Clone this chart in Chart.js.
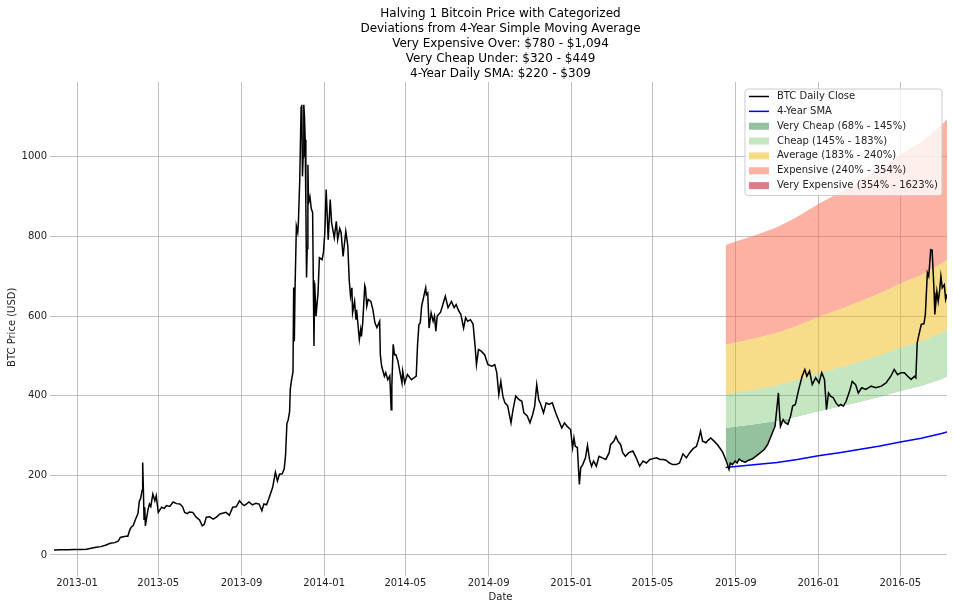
<!DOCTYPE html>
<html>
<head>
<meta charset="utf-8">
<script src="https://cdn.jsdelivr.net/npm/chart.js@4.4.1/dist/chart.umd.min.js"></script>
<style>
  html, body { margin: 0; padding: 0; background: #fff; }
  #chart { display: block; }
</style>
</head>
<body>
<canvas id="chart" width="953" height="610"></canvas>
<script>
// BTC daily close
const closeDates = [
  "2012-11-28","2012-12-08","2012-12-18","2012-12-28","2013-01-07","2013-01-15","2013-01-22","2013-01-29",
  "2013-02-05","2013-02-12","2013-02-19","2013-02-26","2013-03-03","2013-03-06","2013-03-10","2013-03-14",
  "2013-03-17","2013-03-20","2013-03-22","2013-03-25","2013-03-28","2013-04-01","2013-04-03","2013-04-05",
  "2013-04-07","2013-04-08","2013-04-09","2013-04-10","2013-04-11","2013-04-12","2013-04-14","2013-04-16",
  "2013-04-18","2013-04-20","2013-04-23","2013-04-26","2013-04-28","2013-05-01","2013-05-03","2013-05-06",
  "2013-05-10","2013-05-13","2013-05-18","2013-05-23","2013-05-28","2013-06-02","2013-06-06","2013-06-09",
  "2013-06-13","2013-06-16","2013-06-21","2013-06-26","2013-07-01","2013-07-05","2013-07-08","2013-07-11",
  "2013-07-16","2013-07-21","2013-07-26","2013-07-31","2013-08-04","2013-08-09","2013-08-14","2013-08-19",
  "2013-08-24","2013-08-29","2013-09-02","2013-09-05","2013-09-09","2013-09-12","2013-09-17","2013-09-22",
  "2013-09-27","2013-10-01","2013-10-04","2013-10-08","2013-10-12","2013-10-17","2013-10-21","2013-10-24",
  "2013-10-27","2013-10-31","2013-11-03","2013-11-05","2013-11-07","2013-11-09","2013-11-11","2013-11-12",
  "2013-11-14","2013-11-16","2013-11-17","2013-11-18","2013-11-19","2013-11-21","2013-11-23","2013-11-24",
  "2013-11-26","2013-11-28","2013-11-29","2013-11-30","2013-12-01","2013-12-02","2013-12-03","2013-12-04",
  "2013-12-05","2013-12-06","2013-12-07","2013-12-08","2013-12-09","2013-12-11","2013-12-13","2013-12-15",
  "2013-12-16","2013-12-17","2013-12-18","2013-12-20","2013-12-23","2013-12-25","2013-12-29","2013-12-31",
  "2014-01-02","2014-01-04","2014-01-07","2014-01-10","2014-01-12","2014-01-16","2014-01-19","2014-01-21",
  "2014-01-24","2014-01-26","2014-01-29","2014-02-02","2014-02-05","2014-02-07","2014-02-09","2014-02-11",
  "2014-02-12","2014-02-15","2014-02-17","2014-02-18","2014-02-22","2014-02-24","2014-02-25","2014-02-27",
  "2014-03-02","2014-03-03","2014-03-05","2014-03-07","2014-03-11","2014-03-14","2014-03-17","2014-03-20",
  "2014-03-24","2014-03-25","2014-03-27","2014-03-31","2014-04-02","2014-04-05","2014-04-08","2014-04-10",
  "2014-04-11","2014-04-13","2014-04-15","2014-04-17","2014-04-20","2014-04-24","2014-04-26","2014-04-27",
  "2014-04-30","2014-05-04","2014-05-10","2014-05-17","2014-05-19","2014-05-21","2014-05-23","2014-05-25",
  "2014-05-31","2014-06-01","2014-06-03","2014-06-05","2014-06-08","2014-06-11","2014-06-13","2014-06-15",
  "2014-06-17","2014-06-22","2014-06-29","2014-07-03","2014-07-08","2014-07-12","2014-07-15","2014-07-18",
  "2014-07-22","2014-07-26","2014-07-29","2014-08-01","2014-08-05","2014-08-09","2014-08-12","2014-08-14",
  "2014-08-17","2014-08-21","2014-08-26","2014-08-31","2014-09-06","2014-09-10","2014-09-13","2014-09-16",
  "2014-09-19","2014-09-22","2014-09-25","2014-09-29","2014-10-04","2014-10-07","2014-10-11","2014-10-16",
  "2014-10-20","2014-10-23","2014-10-28","2014-11-01","2014-11-05","2014-11-08","2014-11-11","2014-11-14",
  "2014-11-17","2014-11-21","2014-11-25","2014-11-29","2014-12-04","2014-12-09","2014-12-14","2014-12-18",
  "2014-12-22","2014-12-26","2014-12-31","2015-01-03","2015-01-05","2015-01-07","2015-01-10","2015-01-13",
  "2015-01-15","2015-01-18","2015-01-22","2015-01-25","2015-01-28","2015-01-31","2015-02-03","2015-02-07",
  "2015-02-11","2015-02-16","2015-02-21","2015-02-26","2015-02-28","2015-03-05","2015-03-08","2015-03-11",
  "2015-03-15","2015-03-18","2015-03-22","2015-03-27","2015-04-02","2015-04-07","2015-04-12","2015-04-17",
  "2015-04-22","2015-04-27","2015-05-02","2015-05-07","2015-05-12","2015-05-17","2015-05-21","2015-05-26",
  "2015-05-31","2015-06-05","2015-06-10","2015-06-15","2015-06-20","2015-06-25","2015-06-30","2015-07-05",
  "2015-07-08","2015-07-11","2015-07-14","2015-07-19","2015-07-22","2015-07-26","2015-07-31","2015-08-05",
  "2015-08-10","2015-08-13","2015-08-17","2015-08-19","2015-08-22","2015-08-24","2015-08-27","2015-08-31",
  "2015-09-03","2015-09-06","2015-09-10","2015-09-15","2015-09-20","2015-09-25","2015-09-30","2015-10-06",
  "2015-10-13","2015-10-18","2015-10-22","2015-10-26","2015-10-29","2015-10-31","2015-11-02","2015-11-03",
  "2015-11-04","2015-11-06","2015-11-10","2015-11-13","2015-11-17","2015-11-21","2015-11-24","2015-11-28",
  "2015-12-03","2015-12-08","2015-12-12","2015-12-15","2015-12-19","2015-12-23","2015-12-28","2016-01-02",
  "2016-01-06","2016-01-10","2016-01-13","2016-01-16","2016-01-19","2016-01-23","2016-01-27","2016-01-31",
  "2016-02-03","2016-02-07","2016-02-11","2016-02-16","2016-02-20","2016-02-25","2016-02-29","2016-03-05",
  "2016-03-11","2016-03-19","2016-03-26","2016-04-03","2016-04-10","2016-04-17","2016-04-22","2016-04-27",
  "2016-05-02","2016-05-07","2016-05-12","2016-05-17","2016-05-22","2016-05-24","2016-05-26","2016-05-28",
  "2016-06-01","2016-06-05","2016-06-07","2016-06-10","2016-06-12","2016-06-15","2016-06-17","2016-06-20",
  "2016-06-21","2016-06-24","2016-06-26","2016-06-28","2016-06-30","2016-07-02","2016-07-05","2016-07-07",
  "2016-07-09"
];
const closeValues = [
  12.4,13.4,13.3,13.5,13.6,14.3,16.8,19.4,
  21,24.6,29.5,31,35,44,46,47,
  47,63,70,74,88,104,135,142,
  162,232,165,90,120,73,95,115,
  128,122,153,136,149,107,112,120,
  117,124,122,133,129,128,121,107,
  104,108,107,95,88,73,77,95,
  96,90,95,103,105,107,100,120,
  121,136,128,124,129,133,126,130,
  128,111,128,126,145,170,208,186,
  203,204,216,250,330,340,360,416,
  441,460,672,537,667,826,810,835,
  943,1125,1131,951,1000,1131,1100,1043,
  880,697,770,980,885,900,870,860,
  690,525,684,600,659,747,742,760,
  810,918,792,893,835,797,838,792,
  820,810,750,813,776,692,650,671,
  608,637,591,616,541,566,549,583,
  677,671,625,642,637,616,583,571,
  587,503,474,449,458,440,450,365,
  424,529,503,503,487,450,432,462,
  432,453,440,449,529,579,583,625,
  671,654,658,570,608,587,600,562,
  600,610,650,621,637,621,629,616,
  604,570,596,587,591,580,524,478,
  516,512,503,478,474,478,458,403,
  436,399,382,375,332,365,399,390,
  386,357,349,332,353,374,428,390,
  378,357,382,378,382,357,336,319,
  332,323,315,269,294,273,270,177,
  219,227,244,275,240,223,236,223,
  248,244,240,257,277,286,298,286,
  277,257,248,257,261,244,223,236,
  231,240,242,244,240,240,238,231,
  227,227,231,254,244,257,267,273,
  290,311,286,282,288,294,286,277,
  265,257,240,231,215,231,227,236,
  231,241,236,233,238,241,247,255,
  265,277,294,311,323,357,390,407,
  374,323,340,332,328,349,374,378,
  416,449,466,449,462,428,445,432,
  458,441,365,407,399,395,382,374,
  378,374,386,411,436,428,407,420,
  416,424,420,424,432,449,466,453,
  458,458,449,441,449,445,533,549,
  579,581,604,709,700,767,766,659,
  604,662,637,662,700,671,679,642,
  655
];

// 4-year simple moving average
const smaDates = ["2015-08-17","2015-09-01","2015-10-01","2015-11-01","2015-12-01","2016-01-01","2016-02-01",
                  "2016-03-01","2016-04-01","2016-05-01","2016-06-01","2016-07-01","2016-07-09"];
const smaValues = [220, 222.5, 227, 232.5, 240, 249, 257, 265, 274, 284, 293, 305, 309];

const bandNames = ["Very Cheap (68% - 145%)", "Cheap (145% - 183%)", "Average (183% - 240%)",
                   "Expensive (240% - 354%)", "Very Expensive (354% - 1623%)"];
const bandEdges = [1.45, 1.83, 2.40, 3.54];
const bandColors = ["rgba(20,120,40,0.45)", "rgba(100,190,90,0.38)", "rgba(240,185,20,0.5)",
                    "rgba(252,100,70,0.5)", "rgba(190,20,40,0.55)"];

const xTickLabels = ["2013-01","2013-05","2013-09","2014-01","2014-05","2014-09",
                     "2015-01","2015-05","2015-09","2016-01","2016-05"];
const yTickValues = [0, 200, 400, 600, 800, 1000];

const titleLines = [
  "Halving 1 Bitcoin Price with Categorized",
  "Deviations from 4-Year Simple Moving Average",
  "Very Expensive Over: $780 - $1,094",
  "Very Cheap Under: $320 - $449",
  "4-Year Daily SMA: $220 - $309"
];

const FONT = "'DejaVu Sans', 'Liberation Sans', sans-serif";
const TEXT = "#222";
const GRID = "#b0b0b0";

const day = s => Date.parse(s.length === 7 ? s + "-01T00:00:00Z" : s + "T00:00:00Z");

const priceData = closeDates.map((d, i) => ({ x: day(d), y: closeValues[i] }));
const smaData = smaDates.map((d, i) => ({ x: day(d), y: smaValues[i] }));
const edgeData = m => smaDates.map((d, i) => ({ x: day(d), y: smaValues[i] * m }));

const noLine = { borderColor: "rgba(0,0,0,0)", borderWidth: 1, pointRadius: 0 };

const datasets = [
  { label: "BTC Daily Close", data: priceData, borderColor: "#000", borderWidth: 1.5, pointRadius: 0,
    fill: { target: 2, above: "rgba(0,0,0,0)", below: bandColors[0] } },
  { label: "4-Year SMA", data: smaData, borderColor: "#0000ff", borderWidth: 1.5, pointRadius: 0, fill: false },
  { label: "edge145", data: edgeData(bandEdges[0]), ...noLine, fill: false },
  { label: "edge183", data: edgeData(bandEdges[1]), ...noLine, fill: "-1", backgroundColor: bandColors[1] },
  { label: "edge240", data: edgeData(bandEdges[2]), ...noLine, fill: "-1", backgroundColor: bandColors[2] },
  { label: "edge354", data: edgeData(bandEdges[3]), ...noLine, fill: "-1", backgroundColor: bandColors[3] }
];

// legend drawn inside the plot, top right, like matplotlib's
const legendBox = {
  id: "legendBox",
  afterDatasetsDraw(chart) {
    const { ctx, chartArea } = chart;
    const items = [
      { text: "BTC Daily Close", line: "#000" },
      { text: "4-Year SMA", line: "#0000ff" }
    ].concat(bandNames.map((n, i) => ({ text: n, box: bandColors[i] })));

    ctx.save();
    ctx.font = "10px " + FONT;
    const maxW = Math.max(...items.map(it => ctx.measureText(it.text).width));
    const rowH = 14.85;
    const right = chartArea.right - 5;
    const top = chartArea.top + 7;
    const w = 4 + 20 + 8 + maxW + 4;
    const h = rowH * items.length + 2.5;
    const left = right - w;

    ctx.beginPath();
    ctx.roundRect(left, top, w, h, 3);
    ctx.fillStyle = "rgba(255,255,255,0.8)";
    ctx.fill();
    ctx.strokeStyle = "#cccccc";
    ctx.lineWidth = 1;
    ctx.stroke();

    items.forEach((it, i) => {
      const cy = top + 7.5 + rowH * i;
      const hx = left + 4;
      if (it.line) {
        ctx.beginPath();
        ctx.moveTo(hx, cy);
        ctx.lineTo(hx + 20, cy);
        ctx.strokeStyle = it.line;
        ctx.lineWidth = 1.5;
        ctx.stroke();
      } else {
        ctx.fillStyle = it.box;
        ctx.fillRect(hx, cy - 3.5, 20, 7);
      }
      ctx.fillStyle = TEXT;
      ctx.textBaseline = "middle";
      ctx.textAlign = "left";
      ctx.fillText(it.text, hx + 28, cy);
    });
    ctx.restore();
  }
};

new Chart(document.getElementById("chart"), {
  type: "line",
  data: { datasets },
  plugins: [legendBox],
  options: {
    responsive: false,
    animation: false,
    devicePixelRatio: 1,
    layout: { padding: { left: 0, right: 6, top: 0, bottom: 0 } },
    elements: { line: { tension: 0 } },
    plugins: {
      legend: { display: false },
      tooltip: { enabled: false },
      title: {
        display: true,
        fullSize: false,
        text: titleLines,
        color: "#000",
        font: { family: FONT, size: 12, weight: "normal", lineHeight: 1.25 },
        padding: { top: 6.5, bottom: 0.5 }
      }
    },
    scales: {
      x: {
        type: "linear",
        min: day("2012-11-28"),
        max: day("2016-07-09"),
        afterBuildTicks: axis => { axis.ticks = xTickLabels.map(t => ({ value: day(t) })); },
        afterFit: axis => { axis.height = 37.5; },
        border: { display: false },
        grid: { color: GRID, lineWidth: 0.8, tickLength: 4, tickColor: GRID },
        ticks: {
          autoSkip: false, maxRotation: 0, padding: 1, color: TEXT,
          font: { family: FONT, size: 10 },
          callback: v => new Date(v).toISOString().slice(0, 7)
        },
        title: { display: true, text: "Date", color: TEXT, font: { family: FONT, size: 10 },
                 padding: { top: 0, bottom: 7 } }
      },
      y: {
        type: "linear",
        min: -44,
        max: 1188,
        afterBuildTicks: axis => { axis.ticks = yTickValues.map(v => ({ value: v })); },
        afterFit: axis => { axis.width = 54; },
        border: { display: false },
        grid: { color: GRID, lineWidth: 0.8, tickLength: 4, tickColor: GRID },
        ticks: { padding: 3, color: TEXT, font: { family: FONT, size: 10 }, callback: v => String(v) },
        title: { display: true, text: "BTC Price (USD)", color: TEXT, font: { family: FONT, size: 10 },
                 padding: { top: 6, bottom: 0 } }
      }
    }
  }
});
</script>
</body>
</html>
